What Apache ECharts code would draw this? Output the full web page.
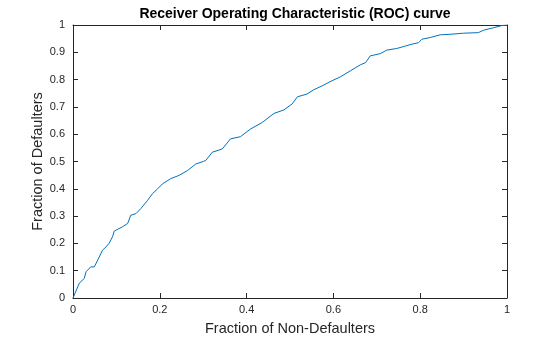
<!DOCTYPE html>
<html><head><meta charset="utf-8">
<script src="https://cdn.jsdelivr.net/npm/echarts@6/dist/echarts.min.js"></script>
<style>html,body{margin:0;padding:0;background:#fff}#c{width:560px;height:337px}</style>
</head><body><div id="c"></div>
<script>
const fpr = [0,0.003,0.0145,0.026,0.030,0.041,0.049,0.057,0.068,0.076,0.083,0.091,0.095,0.114,0.126,0.133,0.145,0.156,0.172,0.183,0.195,0.206,0.225,0.244,0.264,0.283,0.300,0.306,0.321,0.344,0.363,0.386,0.409,0.436,0.463,0.486,0.505,0.517,0.539,0.555,0.574,0.597,0.616,0.639,0.662,0.674,0.685,0.708,0.723,0.746,0.766,0.781,0.796,0.804,0.823,0.846,0.869,0.900,0.934,0.946,0.969,0.988,1];
const tpr = [0,0.005,0.054,0.072,0.096,0.114,0.114,0.139,0.175,0.187,0.200,0.224,0.245,0.261,0.273,0.303,0.309,0.327,0.358,0.382,0.400,0.418,0.437,0.449,0.467,0.491,0.500,0.504,0.534,0.546,0.583,0.591,0.619,0.643,0.676,0.689,0.711,0.737,0.747,0.763,0.777,0.796,0.810,0.832,0.854,0.862,0.887,0.895,0.908,0.914,0.923,0.930,0.935,0.948,0.954,0.964,0.966,0.970,0.972,0.981,0.990,0.998,1];
const titleText = 'Receiver Operating Characteristic (ROC) curve';
const xName = 'Fraction of Non-Defaulters';
const yName = 'Fraction of Defaulters';

const axCol = '#262626';
const font = 'Liberation Sans, Arial, sans-serif';
const chart = echarts.init(document.getElementById('c'), null, {renderer:'canvas'});
const fmt = v => String(+v.toFixed(1));
const baseAxis = (extra) => Object.assign({
  type:'value', min:0, max:1,
  axisLine:{show:true, onZero:false, lineStyle:{color:axCol, width:1}},
  axisTick:{show:true, inside:true, length:5, lineStyle:{color:axCol}},
  splitLine:{show:false},
  axisLabel:{show:false}
}, extra);
chart.setOption({
  animation:false,
  title:{text:titleText, left:290, top:2, textAlign:'center',
    textStyle:{fontSize:14, fontWeight:'bold', color:'#000', fontFamily:font}},
  grid:{left:73, right:53, top:25, bottom:39, containLabel:false, outerBoundsMode:'none'},
  xAxis:[
    baseAxis({position:'bottom', interval:0.2, name:xName, nameLocation:'middle', nameGap:23,
      nameMoveOverlap:false,
      nameTextStyle:{fontSize:14.5, color:axCol, fontFamily:font},
      axisLabel:{show:true, color:axCol, fontSize:11, fontFamily:font, margin:6, formatter:fmt}}),
    baseAxis({position:'top', interval:0.2})
  ],
  yAxis:[
    baseAxis({position:'left', interval:0.1, name:yName, nameLocation:'middle', nameGap:28,
      nameMoveOverlap:false,
      nameTextStyle:{fontSize:14.5, color:axCol, fontFamily:font},
      axisLabel:{show:true, color:axCol, fontSize:11, fontFamily:font, margin:8, formatter:fmt}}),
    baseAxis({position:'right', interval:0.1})
  ],
  series:[{type:'line', xAxisIndex:0, yAxisIndex:0, data:fpr.map((x,i)=>[x,tpr[i]]),
    showSymbol:false, lineStyle:{color:'#0072BD', width:1}}]
});
</script></body></html>
